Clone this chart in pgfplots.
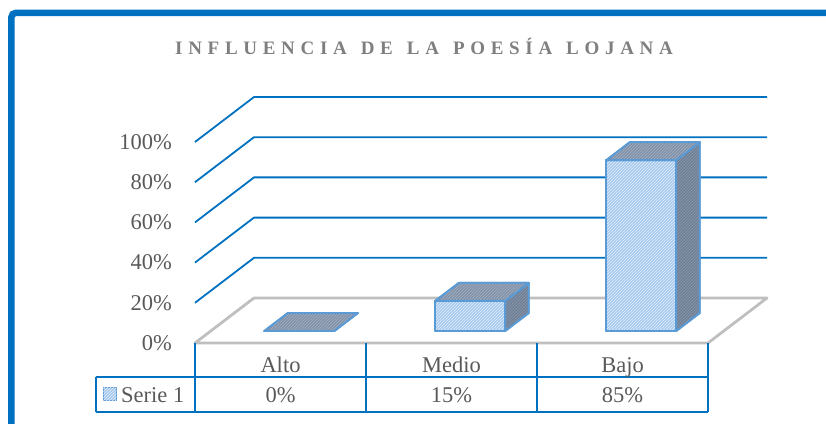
\documentclass[border=0pt]{standalone}
\usepackage{pgfplots}
\pgfplotsset{compat=1.18}
\usepackage{fontspec}
\setmainfont{Liberation Serif}
\usetikzlibrary{calc,patterns}
\definecolor{gridblue}{HTML}{0070C0}
\definecolor{floorgray}{HTML}{BFBFBF}
\definecolor{barline}{HTML}{5B9BD5}
\definecolor{frontfill}{HTML}{A6C9EE}
\definecolor{frontlines}{HTML}{E4F0FB}
\definecolor{topfill}{HTML}{8293A9}
\definecolor{toplines}{HTML}{A3B0C2}
\definecolor{sidefill}{HTML}{6F8197}
\definecolor{sidelines}{HTML}{8A98AB}
\definecolor{txtgray}{HTML}{595959}
\definecolor{titlegray}{HTML}{7F7F7F}
\newfontfamily\titlefont{Liberation Serif}[LetterSpace=30]
\newcommand\bigfont{\fontsize{22.5}{27}\selectfont}
\newcommand\wsp{\hspace{14pt}}
\pgfplotsset{
  frontface/.style={fill=frontfill, draw=barline, line width=1.8pt, line join=round,
    postaction={pattern=north east lines, pattern color=frontlines}},
  topface/.style={fill=topfill, draw=barline, line width=1.8pt, line join=round,
    postaction={pattern=north east lines, pattern color=toplines}},
  sideface/.style={fill=sidefill, draw=barline, line width=1.8pt, line join=round,
    postaction={pattern=north east lines, pattern color=sidelines}},
  gridln/.style={gridblue, line width=1.8pt, line join=round},
}
\begin{document}
\begin{tikzpicture}
\begin{axis}[
  x={(171pt,0pt)}, y={(59pt,45pt)}, z={(0pt,2.01pt)},
  xmin=-0.5, xmax=2.5, ymin=0, ymax=1, zmin=0, zmax=100,
  hide axis, clip=false,
]
% back-wall gridlines
\addplot3[gridln] coordinates {(-0.5,0,20) (-0.5,1,20) (2.5,1,20)};
\addplot3[gridln] coordinates {(-0.5,0,40) (-0.5,1,40) (2.5,1,40)};
\addplot3[gridln] coordinates {(-0.5,0,60) (-0.5,1,60) (2.5,1,60)};
\addplot3[gridln] coordinates {(-0.5,0,80) (-0.5,1,80) (2.5,1,80)};
\addplot3[gridln] coordinates {(-0.5,0,100) (-0.5,1,100) (2.5,1,100)};
% floor
\addplot3[floorgray, line width=2.8pt, line join=round] coordinates {(-0.5,0,0) (-0.5,1,0) (2.5,1,0) (2.5,0,0)} -- cycle;
% Alto: 0
\addplot3[sideface] coordinates {(0.2222,0.2667,0) (0.2222,0.6667,0) (0.2222,0.6667,0) (0.2222,0.2667,0)} -- cycle;
\addplot3[frontface] coordinates {(-0.1872,0.2667,0) (0.2222,0.2667,0) (0.2222,0.2667,0) (-0.1872,0.2667,0)} -- cycle;
\addplot3[topface] coordinates {(-0.1872,0.2667,0) (0.2222,0.2667,0) (0.2222,0.6667,0) (-0.1872,0.6667,0)} -- cycle;
% Medio: 15
\addplot3[sideface] coordinates {(1.2222,0.2667,0) (1.2222,0.6667,0) (1.2222,0.6667,15) (1.2222,0.2667,15)} -- cycle;
\addplot3[frontface] coordinates {(0.8128,0.2667,0) (1.2222,0.2667,0) (1.2222,0.2667,15) (0.8128,0.2667,15)} -- cycle;
\addplot3[topface] coordinates {(0.8128,0.2667,15) (1.2222,0.2667,15) (1.2222,0.6667,15) (0.8128,0.6667,15)} -- cycle;
% Bajo: 85
\addplot3[sideface] coordinates {(2.2222,0.2667,0) (2.2222,0.6667,0) (2.2222,0.6667,85) (2.2222,0.2667,85)} -- cycle;
\addplot3[frontface] coordinates {(1.8128,0.2667,0) (2.2222,0.2667,0) (2.2222,0.2667,85) (1.8128,0.2667,85)} -- cycle;
\addplot3[topface] coordinates {(1.8128,0.2667,85) (2.2222,0.2667,85) (2.2222,0.6667,85) (1.8128,0.6667,85)} -- cycle;
% value-axis labels
\pgfplotsinvokeforeach{0,20,40,60,80,100}{
  \node[anchor=east, text=txtgray, font=\bigfont, inner sep=0pt, xshift=-23pt] at (axis cs:-0.5,0,#1) {#1\%};
}
\coordinate (O) at (axis cs:-0.5,0,0);
\end{axis}
\pgfresetboundingbox
\begin{scope}[shift={($(O)+(-195pt,343pt)$)}, x=1pt, y=-1pt]
\useasboundingbox (0,0) rectangle (826,423);
% outer frame
\draw[gridblue, line width=6.5pt, rounded corners=4pt] (11.5,450) -- (11.5,13) -- (850,13);
% title
\node[anchor=base west, text=titlegray, inner sep=0pt] at (175,54.5) {\titlefont\bfseries\fontsize{19}{22}\selectfont INFLUENCIA\wsp DE\wsp LA\wsp POESÍA\wsp LOJANA};
% data table
\draw[gridblue, line width=2pt]
  (195,343) -- (195,412)
  (366,343) -- (366,412)
  (537,343) -- (537,412)
  (708,343) -- (708,412)
  (96,377) -- (96,412)
  (96,377) -- (708,377)
  (96,412) -- (708,412);
\node[anchor=base, text=txtgray, font=\bigfont, inner sep=0pt] at (280.5,372) {Alto};
\node[anchor=base, text=txtgray, font=\bigfont, inner sep=0pt] at (451.5,372) {Medio};
\node[anchor=base, text=txtgray, font=\bigfont, inner sep=0pt] at (622.5,372) {Bajo};
\node[anchor=base, text=txtgray, font=\bigfont, inner sep=0pt] at (280.5,402) {0\%};
\node[anchor=base, text=txtgray, font=\bigfont, inner sep=0pt] at (451.5,402) {15\%};
\node[anchor=base, text=txtgray, font=\bigfont, inner sep=0pt] at (622.5,402) {85\%};
\filldraw[fill=frontfill, draw=barline, line width=1pt, postaction={pattern=north east lines, pattern color=frontlines}] (103.5,387.5) rectangle (116.5,400.5);
\node[anchor=base west, text=txtgray, font=\bigfont, inner sep=0pt] at (121,402) {Serie 1};
\end{scope}
\end{tikzpicture}
\end{document}
